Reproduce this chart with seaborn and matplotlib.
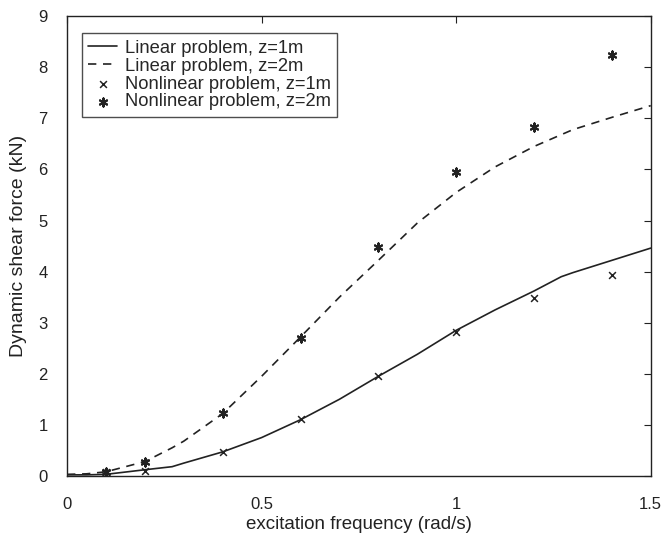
import matplotlib
matplotlib.use("Agg")
import matplotlib.pyplot as plt
import seaborn as sns
import pandas as pd

# Linear problem curves
lin_x1 = [0.0, 0.05, 0.1, 0.2, 0.27, 0.3, 0.4, 0.5, 0.6, 0.7, 0.8, 0.9, 1.0, 1.05, 1.1, 1.2, 1.27, 1.3, 1.4, 1.5]
lin_y1 = [0.02, 0.02, 0.03, 0.12, 0.18, 0.25, 0.47, 0.75, 1.1, 1.5, 1.95, 2.38, 2.85, 3.05, 3.25, 3.62, 3.9, 3.98, 4.22, 4.46]
lin_x2 = [0.0, 0.05, 0.1, 0.2, 0.27, 0.3, 0.4, 0.5, 0.6, 0.7, 0.8, 0.9, 1.0, 1.1, 1.2, 1.3, 1.4, 1.5]
lin_y2 = [0.03, 0.04, 0.08, 0.28, 0.55, 0.68, 1.22, 1.95, 2.72, 3.5, 4.22, 4.95, 5.55, 6.05, 6.45, 6.78, 7.02, 7.25]

# Nonlinear problem points
nl_x = [0.1, 0.2, 0.4, 0.6, 0.8, 1.0, 1.2, 1.4]
nl_y1 = [0.07, 0.1, 0.47, 1.12, 1.96, 2.82, 3.48, 3.93]
nl_y2 = [0.08, 0.27, 1.23, 2.7, 4.48, 5.95, 6.83, 8.25]

xticks = [0, 0.5, 1, 1.5]
xticklabels = ["0", "0.5", "1", "1.5"]
yticks = list(range(0, 10))

sns.set_style("white")
plt.rcParams['font.family'] = ['Liberation Sans', 'DejaVu Sans']

fig = plt.figure(figsize=(6.64, 5.42), dpi=100)
ax = fig.add_axes([0.101, 0.122, 0.879, 0.848])

sns.lineplot(x=lin_x1, y=lin_y1, ax=ax, color='#222222', lw=1.2, linestyle='-',
             label='Linear problem, z=1m', sort=False)
sns.lineplot(x=lin_x2, y=lin_y2, ax=ax, color='#222222', lw=1.2, linestyle=(0, (5, 4)),
             label='Linear problem, z=2m', sort=False)
sns.scatterplot(x=nl_x, y=nl_y1, ax=ax, marker='x', s=24, color='#222222', linewidth=1.1,
                label='Nonlinear problem, z=1m')
sns.scatterplot(x=nl_x, y=nl_y2, ax=ax, marker=(6, 2, 0), s=34, color='#222222', linewidth=1.5,
                label='Nonlinear problem, z=2m')

ax.set_xlim(0, 1.5)
ax.set_ylim(0, 9)
ax.set_xticks(xticks)
ax.set_xticklabels(xticklabels)
ax.set_yticks(yticks)
ax.tick_params(direction='in', length=5, width=0.8, top=True, right=True,
               labelsize=12, colors='#222222')
ax.tick_params(axis='y', pad=14)
ax.tick_params(axis='x', pad=15)
for s in ax.spines.values():
    s.set_color('#222222')
    s.set_linewidth(1.0)

ax.set_xlabel('excitation frequency (rad/s)', fontsize=13.5, color='#222222', labelpad=3)
ax.set_ylabel('Dynamic shear force (kN)', fontsize=14, color='#222222', labelpad=8)

leg = ax.legend(loc='upper left', bbox_to_anchor=(0.025, 0.963), fontsize=13.2, frameon=True,
                fancybox=False, edgecolor='#222222', handlelength=1.6, handletextpad=0.4,
                borderpad=0.35, labelspacing=0.05, borderaxespad=0)
leg.get_frame().set_linewidth(1.0)

fig.savefig('out.png', dpi=100)
